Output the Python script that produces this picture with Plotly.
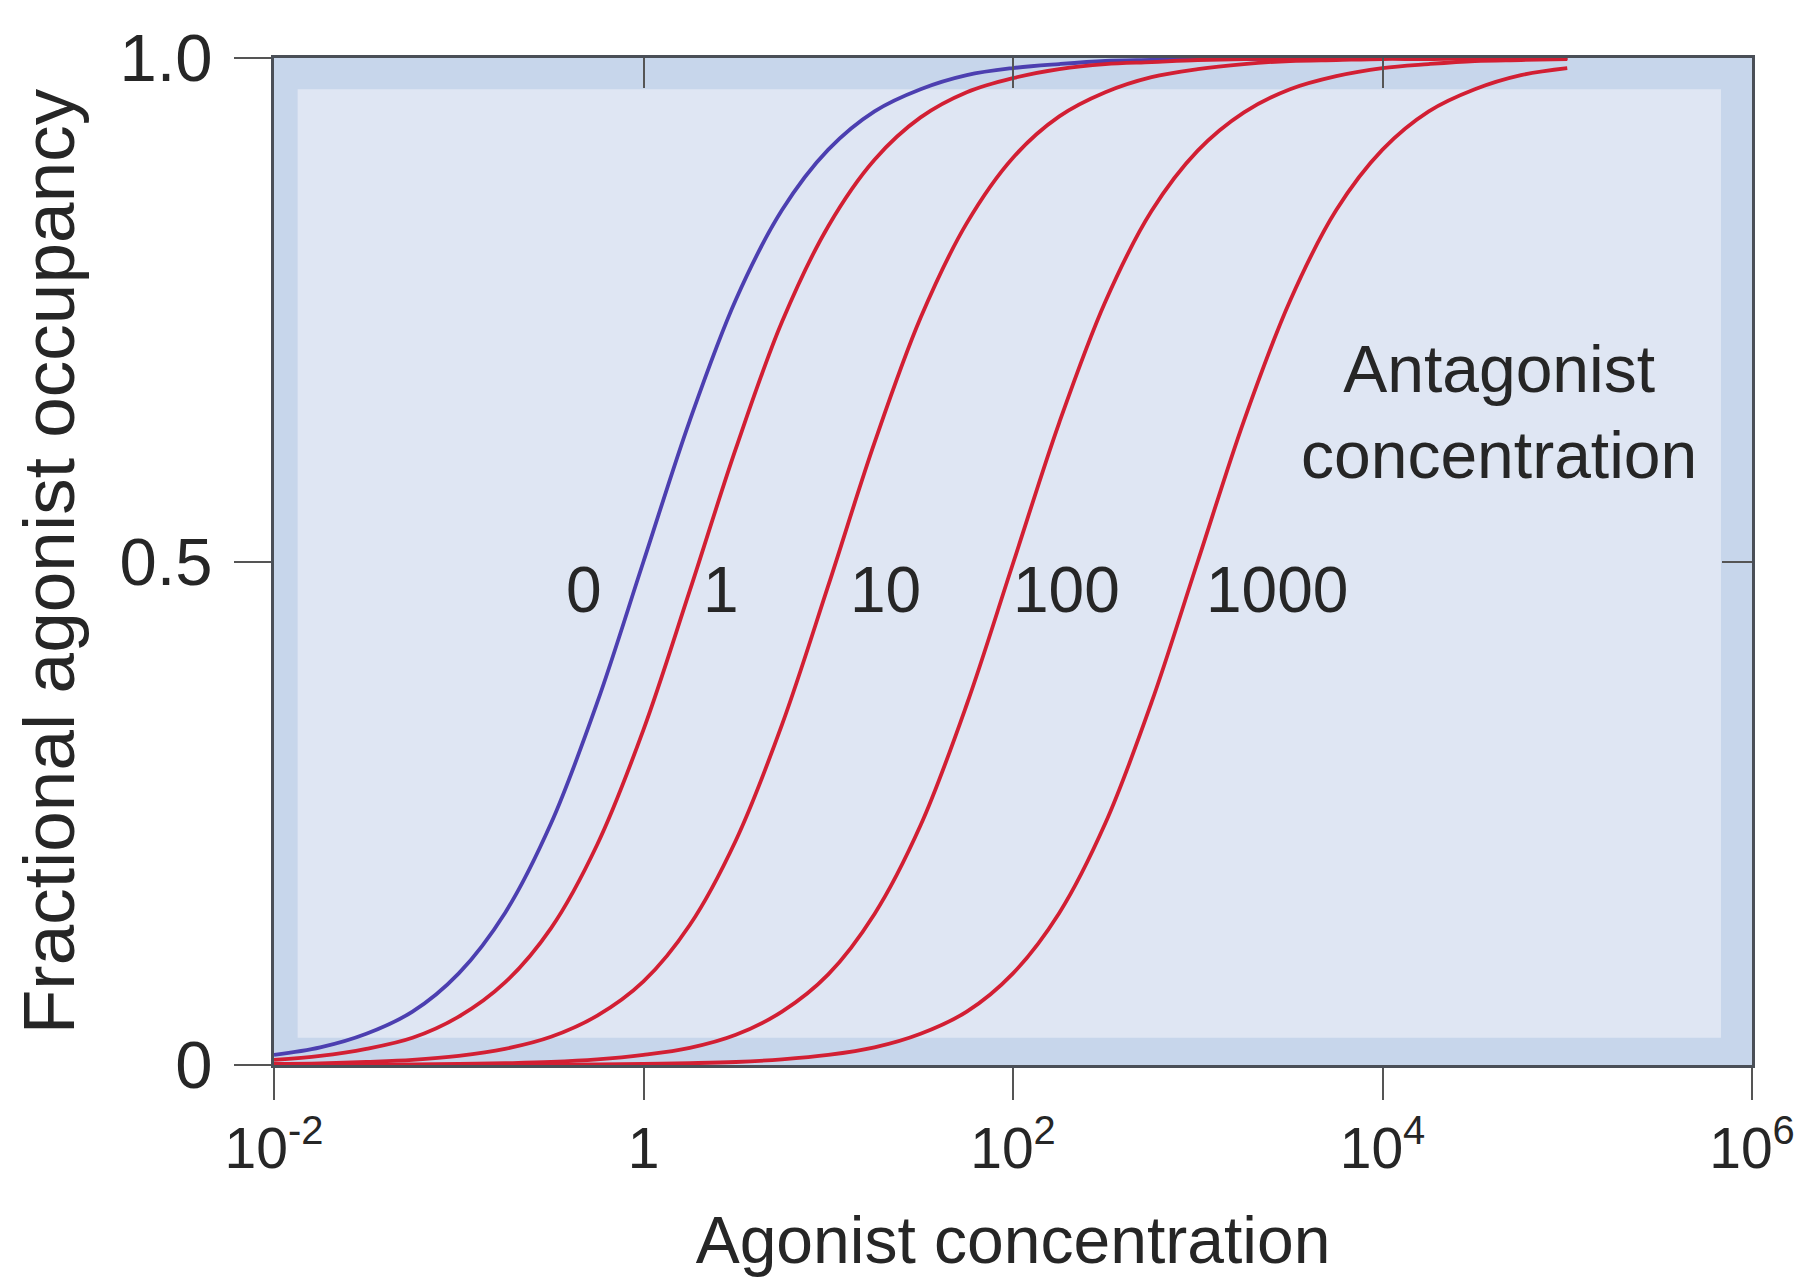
import plotly.graph_objects as go

# Agonist concentration (x) sampled every quarter decade, 1e-2 .. 1e5
agonist = [0.01, 0.0178, 0.0316, 0.0562, 0.1, 0.178, 0.316, 0.562, 1, 1.78,
           3.16, 5.62, 10, 17.8, 31.6, 56.2, 100, 178, 316, 562,
           1000, 1780, 3160, 5620, 10000, 17800, 31600, 56200, 100000]

# Fractional agonist occupancy, per antagonist concentration
occ_0 = [0.010, 0.0175, 0.031, 0.053, 0.091, 0.151, 0.240, 0.360, 0.500, 0.640,
         0.760, 0.849, 0.909, 0.947, 0.969, 0.983, 0.990, 0.994, 0.997, 0.998,
         0.999, 0.999, 1.0, 1.0, 1.0, 1.0, 1.0, 1.0, 1.0]
occ_1 = [0.005, 0.009, 0.016, 0.027, 0.048, 0.082, 0.136, 0.219, 0.333, 0.471,
         0.612, 0.738, 0.833, 0.899, 0.941, 0.966, 0.980, 0.989, 0.994, 0.996,
         0.998, 0.999, 0.999, 1.0, 1.0, 1.0, 1.0, 1.0, 1.0]
occ_10 = [0.001, 0.0016, 0.003, 0.005, 0.009, 0.016, 0.028, 0.049, 0.083, 0.139,
          0.223, 0.338, 0.476, 0.618, 0.742, 0.836, 0.901, 0.942, 0.966, 0.981,
          0.989, 0.994, 0.997, 0.998, 0.999, 0.999, 1.0, 1.0, 1.0]
occ_100 = [0.0001, 0.0002, 0.0003, 0.0006, 0.001, 0.0018, 0.003, 0.0055, 0.010, 0.017,
           0.030, 0.053, 0.090, 0.150, 0.238, 0.358, 0.498, 0.638, 0.758, 0.848,
           0.908, 0.946, 0.969, 0.982, 0.990, 0.994, 0.997, 0.998, 0.999]
occ_1000 = [0.0, 0.0, 0.0, 0.0001, 0.0001, 0.0002, 0.0003, 0.0006, 0.001, 0.0018,
            0.003, 0.0056, 0.010, 0.0175, 0.031, 0.053, 0.091, 0.151, 0.240, 0.360,
            0.500, 0.640, 0.759, 0.849, 0.909, 0.947, 0.969, 0.983, 0.990]

series = [("0", occ_0), ("1", occ_1), ("10", occ_10), ("100", occ_100), ("1000", occ_1000)]
curve_colors = ["#4c3fb0", "#d21f33", "#d21f33", "#d21f33", "#d21f33"]

# Curve labels (antagonist concentration) and their anchors: log10(agonist conc.), occupancy
label_text = ["0", "1", "10", "100", "1000"]
label_logx = [-0.32, 0.42, 1.31, 2.29, 3.43]
label_y = [0.472, 0.472, 0.472, 0.472, 0.472]

x_tickvals = [0.01, 1, 100, 10000, 1000000]
x_ticktext = ["10<sup>-2</sup>", "1", "10<sup>2</sup>", "10<sup>4</sup>", "10<sup>6</sup>"]
y_tickvals = [0, 0.5, 1]
y_ticktext = ["0", "0.5", "1.0"]

FONT = "Liberation Sans, Arial, Helvetica, sans-serif"
TXT = "#262626"
FRAME = "#4a4f57"

fig = go.Figure()
for (name, ys), col in zip(series, curve_colors):
    fig.add_trace(go.Scatter(x=agonist, y=ys, mode="lines", name=name,
                             line=dict(color=col, width=3.8, shape="spline", smoothing=1.0),
                             showlegend=False, cliponaxis=True))

# empty trace to host the mirrored inner-tick axes
fig.add_trace(go.Scatter(x=[], y=[], xaxis="x2", yaxis="y2", showlegend=False, hoverinfo="skip"))

for t, x, y in zip(label_text, label_logx, label_y):
    fig.add_annotation(x=x, y=y, xref="x", yref="y", text=t, showarrow=False,
                       font=dict(family=FONT, size=64, color=TXT), xanchor="center", yanchor="middle")

fig.add_annotation(xref="x domain", yref="y domain", x=0.829, y=0.648,
                   text="Antagonist<br>concentration", showarrow=False, align="center",
                   font=dict(family=FONT, size=66, color=TXT), xanchor="center", yanchor="middle")

# lighter inner panel
fig.add_shape(type="rect", xref="x domain", yref="y domain", x0=0.016, x1=0.979, y0=0.027, y1=0.969,
              fillcolor="#dfe6f3", line=dict(width=0), layer="below")

fig.update_layout(
    width=1802, height=1287,
    margin=dict(l=266, r=58, t=46, b=230),
    paper_bgcolor="white",
    plot_bgcolor="#c7d6eb",
    font=dict(family=FONT, color=TXT, size=64),
    xaxis=dict(type="log", range=[-2, 6], tickvals=x_tickvals, ticktext=x_ticktext,
               ticks="outside", ticklen=32, tickwidth=2, tickcolor="#555",
               showline=True, linecolor=FRAME, linewidth=3, mirror=True,
               showgrid=False, zeroline=False, layer="below traces",
               tickfont=dict(size=57, family=FONT, color=TXT),
               title=dict(text="Agonist concentration", font=dict(size=66, family=FONT, color=TXT), standoff=38)),
    yaxis=dict(range=[0, 1], tickvals=y_tickvals, ticktext=y_ticktext,
               ticks="outside", ticklen=37, tickwidth=2, tickcolor="#555",
               showline=True, linecolor=FRAME, linewidth=3, mirror=True,
               showgrid=False, zeroline=False, layer="below traces",
               ticklabelstandoff=8,
               tickfont=dict(size=67, family=FONT, color=TXT),
               title=dict(text="Fractional agonist occupancy", font=dict(size=73, family=FONT, color=TXT), standoff=26)),
    xaxis2=dict(type="log", range=[-2, 6], overlaying="x", side="top", anchor="y",
                tickvals=[1, 100, 10000], ticks="inside", ticklen=30, tickwidth=2, tickcolor="#555",
                showticklabels=False, showline=False, showgrid=False, zeroline=False),
    yaxis2=dict(range=[0, 1], overlaying="y", side="right", anchor="x",
                tickvals=[0.5], ticks="inside", ticklen=30, tickwidth=2, tickcolor="#555",
                showticklabels=False, showline=False, showgrid=False, zeroline=False),
)

fig.write_html("out.html")
